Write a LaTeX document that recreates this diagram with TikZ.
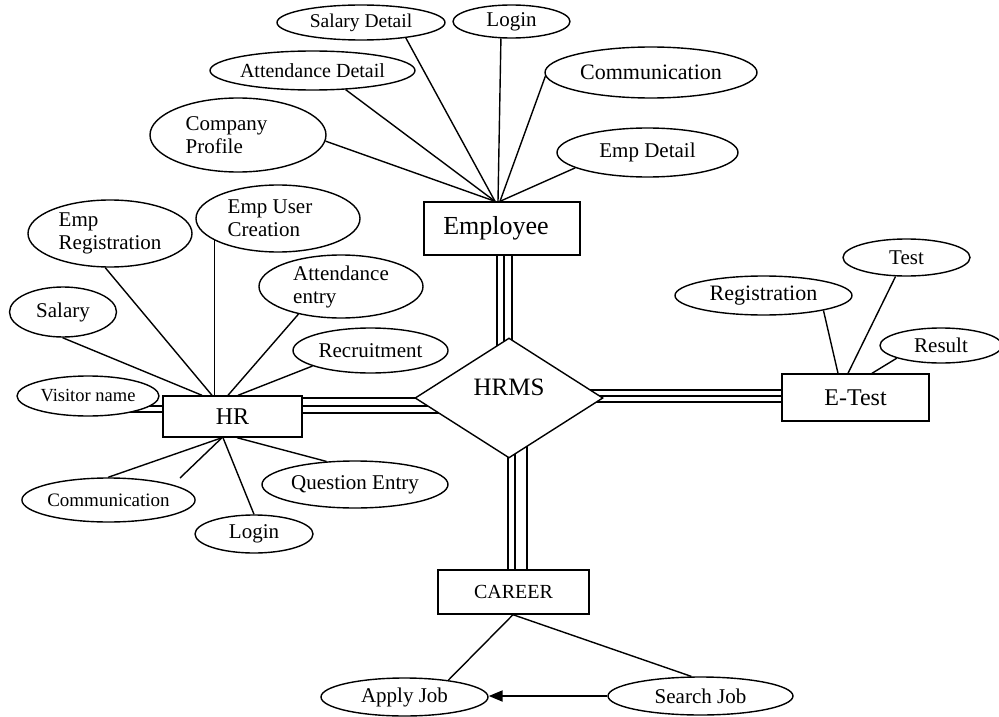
\documentclass[tikz,border=0pt]{standalone}
\usepackage{fontspec}
\setmainfont{Liberation Serif}
\usetikzlibrary{shapes.geometric,arrows.meta}
\pgfdeclarelayer{links}
\pgfsetlayers{links,main}

\tikzset{
  fsz/.style={font=\fontsize{#1}{23}\selectfont},
  attr/.style={ellipse, draw, fill=white, inner sep=0pt, line width=1.4pt, fsz=21},
  entity/.style={rectangle, draw, fill=white, inner sep=0pt, line width=1.4pt},
  relation/.style={diamond, draw, fill=white, inner sep=0pt, line width=1.4pt},
  link/.style={line width=1.4pt},
  flow/.style={line width=2pt, -{Triangle[length=14pt,width=11pt]}}
}

\begin{document}
\begin{tikzpicture}[x=1pt, y=-1pt]
\useasboundingbox (0,0) rectangle (999,717);

% ---------- Employee entity and attributes ----------
\node[entity, minimum width=156pt, minimum height=53pt, fsz=26] (emp) at (502,228.5) {Employee\hspace*{12pt}};
\node[attr, minimum width=168pt, minimum height=35pt, fsz=19.5] (sd) at (361,22.5) {Salary Detail};
\node[attr, minimum width=117pt, minimum height=33pt] (elog) at (511.5,21.5) {Login};
\node[attr, minimum width=199pt, minimum height=39pt, fsz=20] (ad) at (312.5,70.5) {Attendance Detail};
\node[attr, minimum width=176pt, minimum height=74pt, align=left] (cp) at (238,135) {Company\hspace*{23pt}\\Profile};
\node[attr, minimum width=212pt, minimum height=51pt, fsz=22] (ecom) at (651,72.5) {Communication};
\node[attr, minimum width=181pt, minimum height=49pt] (ed) at (647.5,152.5) {Emp Detail};

% ---------- HR entity and attributes ----------
\node[entity, minimum width=139pt, minimum height=41pt, fsz=24] (hr) at (232.5,416.5) {HR};
\node[attr, minimum width=164pt, minimum height=67pt, align=left] (ereg) at (110,233.5) {Emp\\Registration};
\node[attr, minimum width=107pt, minimum height=50pt] (sal) at (63,312) {Salary};
\node[attr, minimum width=164pt, minimum height=67pt, align=left] (euc) at (278,218.5) {Emp User\hspace*{16pt}\\Creation};
\node[attr, minimum width=164pt, minimum height=63pt, align=left] (aen) at (341,286.5) {Attendance\\entry};
\node[attr, minimum width=155pt, minimum height=45pt] (rec) at (370.5,350.5) {Recruitment};
\node[attr, minimum width=142pt, minimum height=40pt, fsz=18.5] (vis) at (88,396) {Visitor name};
\node[attr, minimum width=161pt, minimum height=44pt, fsz=19] (hcom) at (108.5,500) {Communication};
\node[attr, minimum width=118pt, minimum height=38pt] (hlog) at (254,534) {Login};
\node[attr, minimum width=186pt, minimum height=47pt] (qe) at (355,484.5) {Question Entry};
\coordinate (hrstub) at (180,478);

% ---------- central relationship ----------
\node[relation, minimum width=188pt, minimum height=120pt, text height=17pt, text depth=22pt, fsz=25] (hrms) at (509,398) {HRMS};

% ---------- E-Test entity and attributes ----------
\node[entity, minimum width=147pt, minimum height=47pt, fsz=24] (et) at (855.5,397.5) {E-Test};
\node[attr, minimum width=177pt, minimum height=39pt, fsz=22] (reg) at (763.5,295.5) {Registration};
\node[attr, minimum width=127pt, minimum height=37pt] (test) at (906.5,257.5) {Test};
\node[attr, minimum width=122pt, minimum height=35pt] (res) at (941,345.5) {Result};

% ---------- CAREER entity and attributes ----------
\node[entity, minimum width=151pt, minimum height=44pt, fsz=20] (car) at (513.5,592) {CAREER};
\node[attr, minimum width=167pt, minimum height=38pt] (aj) at (404.5,697) {Apply Job};
\node[attr, minimum width=185pt, minimum height=38pt] (sj) at (700.5,696) {Search Job};

% anchor points of the triple (total participation) links
\coordinate (ev1) at ([xshift=-5pt]emp.south);
\coordinate (ev2) at ([xshift=2pt]emp.south);
\coordinate (ev3) at ([xshift=10pt]emp.south);
\coordinate (hh1) at ([yshift=18.5pt]hr.east);
\coordinate (hh2) at ([yshift=10.5pt]hr.east);
\coordinate (hh3) at ([yshift=3.5pt]hr.east);
\coordinate (th1) at ([yshift=7.5pt]et.west);
\coordinate (th2) at ([yshift=1.5pt]et.west);
\coordinate (th3) at ([yshift=-4.5pt]et.west);
\coordinate (ch1) at ([xshift=-5.5pt]car.north);
\coordinate (ch2) at ([xshift=1.5pt]car.north);
\coordinate (ch3) at ([xshift=13.5pt]car.north);
\coordinate (vh1) at ([yshift=10.5pt]hr.west);
\coordinate (vh2) at ([yshift=4.5pt]hr.west);

\begin{pgfonlayer}{links}
\fill[white] (0,0) rectangle (999,717);

% Employee attributes
\draw[link] (sd.-19) -- ([xshift=-7pt]emp.north);
\draw[link] (elog.-122) -- ([xshift=-4pt]emp.north);
\draw[link] (ad.-30) -- ([xshift=-7pt]emp.north);
\draw[link] (cp.-4) -- ([xshift=-7pt]emp.north);
\draw[link] (ecom.182) -- ([xshift=-2pt]emp.north);
\draw[link] (ed.192) -- ([xshift=-2pt]emp.north);

% HR attributes
\draw[link] (ereg.-98) -- ([xshift=-20.5pt]hr.north);
\draw[link] (sal.-91) -- ([xshift=-30.5pt]hr.north);
\draw[link] (euc.199) -- (euc.199 |- hr.north);
\draw[link] (aen.-147) -- ([xshift=-4.5pt]hr.north);
\draw[link] (rec.-165) -- ([xshift=5.5pt]hr.north);
\draw[link] (hcom.91) -- ([xshift=-10.5pt]hr.south);
\draw[link] ([xshift=-10.5pt]hr.south) -- (hrstub);
\draw[link] (hlog.90) -- ([xshift=-9.5pt]hr.south);
\draw[link] (qe.141) -- ([xshift=4.5pt]hr.south);
\draw[link] (vh1 -| vis.center) -- (vh1);
\draw[link] (vh2 -| vis.center) -- (vh2);

% triple links to the relationship
\draw[link] (ev1) -- (ev1 |- hrms.center);
\draw[link] (ev2) -- (ev2 |- hrms.center);
\draw[link] (ev3) -- (ev3 |- hrms.center);
\draw[link] (hh1) -- (hh1 -| hrms.center);
\draw[link] (hh2) -- (hh2 -| hrms.center);
\draw[link] (hh3) -- (hh3 -| hrms.center);
\draw[link] (th1 -| hrms.center) -- (th1);
\draw[link] (th2 -| hrms.center) -- (th2);
\draw[link] (th3 -| hrms.center) -- (th3);
\draw[link] (ch1 |- hrms.center) -- (ch1);
\draw[link] (ch2 |- hrms.center) -- (ch2);
\draw[link] (ch3 |- hrms.center) -- (ch3);

% E-Test attributes
\draw[link] (reg.-14) -- ([xshift=-17.5pt]et.north);
\draw[link] (test.-120) -- ([xshift=-7.5pt]et.north);
\draw[link] (res.196) -- ([xshift=16.5pt]et.north);

% CAREER attributes
\draw[link] (aj.21) -- ([xshift=-0.5pt]car.south);
\draw[link] (sj.115) -- ([xshift=-0.5pt]car.south);
\draw[flow] (sj.west) -- (sj.west -| aj.east);
\end{pgfonlayer}
\end{tikzpicture}
\end{document}
